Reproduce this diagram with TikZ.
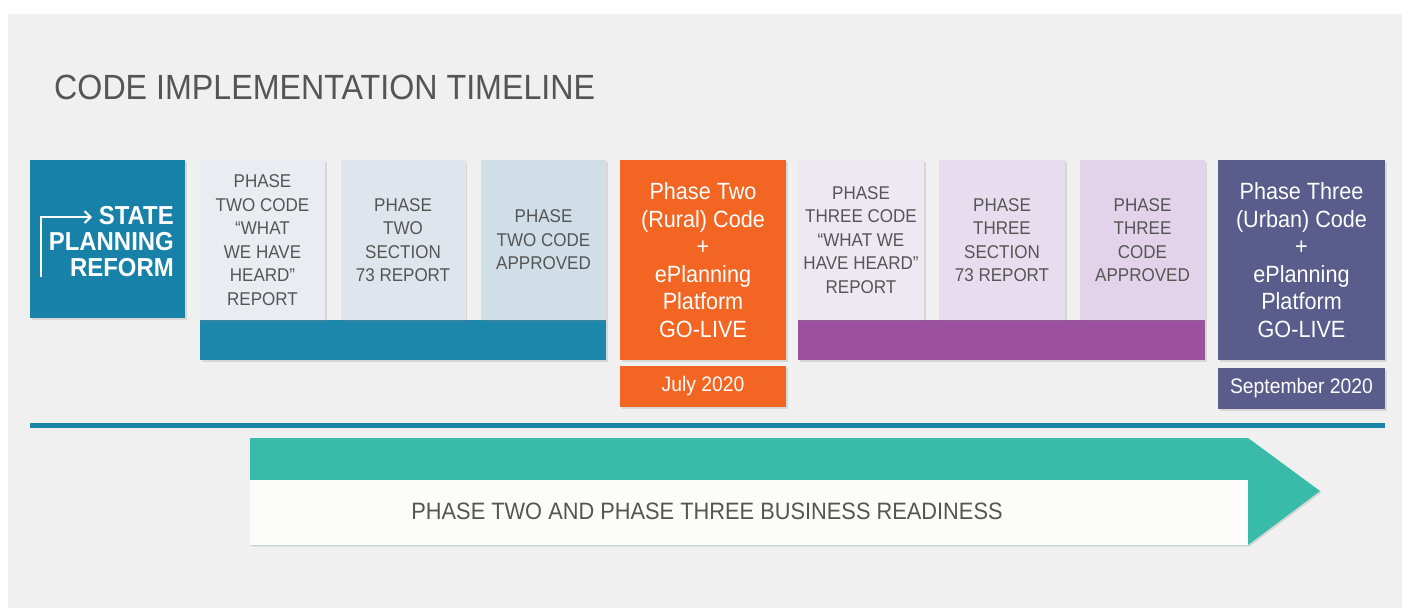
\documentclass[tikz,border=0pt]{standalone}
\usepackage{fontspec}
\setmainfont{Liberation Sans}[FakeStretch=0.92]
\usetikzlibrary{shadows,arrows.meta}
\definecolor{bggray}{HTML}{F0F0F0}
\definecolor{textgray}{HTML}{555555}
\definecolor{stateblue}{HTML}{1781A8}
\definecolor{barblue}{HTML}{1C87AB}
\definecolor{boxa}{HTML}{E9EDF2}
\definecolor{boxb}{HTML}{DEE5ED}
\definecolor{boxc}{HTML}{D0DEE7}
\definecolor{orangec}{HTML}{F26522}
\definecolor{purplebar}{HTML}{9B51A0}
\definecolor{boxd}{HTML}{EEE8F3}
\definecolor{boxe}{HTML}{E8DDEE}
\definecolor{boxf}{HTML}{E2D3EA}
\definecolor{slate}{HTML}{5A5C8C}
\definecolor{linec}{HTML}{1B85A8}
\definecolor{tealc}{HTML}{38BBA9}
\definecolor{offwhite}{HTML}{FCFCFA}
\begin{document}
\begin{tikzpicture}[x=1pt,y=-1pt,
  plain/.style={inner sep=0pt, outer sep=0pt, anchor=north west},
  shbox/.style={plain, drop shadow={opacity=0.22, shadow xshift=1.5pt, shadow yshift=-1.5pt}},
  gbox/.style={shbox, minimum width=125pt, minimum height=160pt, text=textgray, align=center,
    font=\fontsize{18.5}{23.5}\selectfont},
  bigbox/.style={shbox, minimum width=166pt, minimum height=200pt, text=white, align=center,
    font=\fontsize{23.5}{27.5}\selectfont},
  datebox/.style={shbox, minimum width=166pt, minimum height=41pt, text=white,
    font=\fontsize{21}{25}\selectfont},
  barbox/.style={shbox, minimum width=406pt, minimum height=40pt}
]
\useasboundingbox (0,0) rectangle (1408,608);
\fill[white] (0,0) rectangle (1408,608);
\node[plain, fill=bggray, minimum width=1394pt, minimum height=594pt] (bg) at (8,14) {};

% title
\node[anchor=base west, inner sep=0pt, text=textgray, font=\fontsize{35}{40}\selectfont] (title) at (54,99) {CODE IMPLEMENTATION TIMELINE};

% state planning reform
\node[shbox, fill=stateblue, minimum width=155pt, minimum height=158pt] (state) at (30,160) {};
\node[anchor=north east, inner sep=0pt, text=white, align=right,
  font=\bfseries\fontsize{26}{26}\selectfont] (statetxt) at (174,206) {STATE\\PLANNING\\REFORM};
\coordinate (arrA) at (41,277);
\coordinate (arrB) at (41,217);
\coordinate (arrC) at (92,217);
\draw[white, line width=2.6pt, -{Straight Barb[length=6pt,width=12pt,line width=2pt]}] (arrA) -- (arrB) -- (arrC);

% phase two group
\node[barbox, fill=barblue] (bartwo) at (200,320) {};
\node[gbox, fill=boxa] (p2a) at (200,160) {PHASE\\TWO CODE\\“WHAT\\WE HAVE\\HEARD”\\REPORT};
\node[gbox, fill=boxb] (p2b) at (340.5,160) {PHASE\\TWO\\SECTION\\73 REPORT};
\node[gbox, fill=boxc] (p2c) at (481,160) {PHASE\\TWO CODE\\APPROVED};

% orange go-live
\node[bigbox, fill=orangec] (live2) at (620,160) {Phase Two\\(Rural) Code\\+\\ePlanning\\Platform\\GO-LIVE};
\node[datebox, fill=orangec] (date2) at (620,366) {July 2020};

% phase three group
\node[barbox, fill=purplebar, minimum width=407pt] (barthree) at (798,320) {};
\node[gbox, fill=boxd, minimum width=126pt] (p3a) at (798,160) {PHASE\\THREE CODE\\“WHAT WE\\HAVE HEARD”\\REPORT};
\node[gbox, fill=boxe, minimum width=126pt] (p3b) at (939,160) {PHASE\\THREE\\SECTION\\73 REPORT};
\node[gbox, fill=boxf, minimum width=125pt] (p3c) at (1080,160) {PHASE\\THREE\\CODE\\APPROVED};

% slate go-live
\node[bigbox, fill=slate, minimum width=167pt] (live3) at (1218,160) {Phase Three\\(Urban) Code\\+\\ePlanning\\Platform\\GO-LIVE};
\node[datebox, fill=slate, minimum width=167pt] (date3) at (1218,368) {September 2020};

% timeline line
\node[plain, fill=linec, minimum width=1355pt, minimum height=5pt] (timeline) at (30,422.5) {};

% readiness arrow
\fill[tealc, drop shadow={opacity=0.22, shadow xshift=1.5pt, shadow yshift=-1.5pt}]
  (250,438) -- (1248,438) -- (1320,491) -- (1248,545) -- (250,545) -- cycle;
\node[plain, fill=offwhite, minimum width=998pt, minimum height=65pt] (ready) at (250,480) {};
\node[text=textgray, inner sep=0pt, font=\fontsize{23.7}{27}\selectfont] (readytxt) at (707,511) {PHASE TWO AND PHASE THREE BUSINESS READINESS};
\end{tikzpicture}
\end{document}
